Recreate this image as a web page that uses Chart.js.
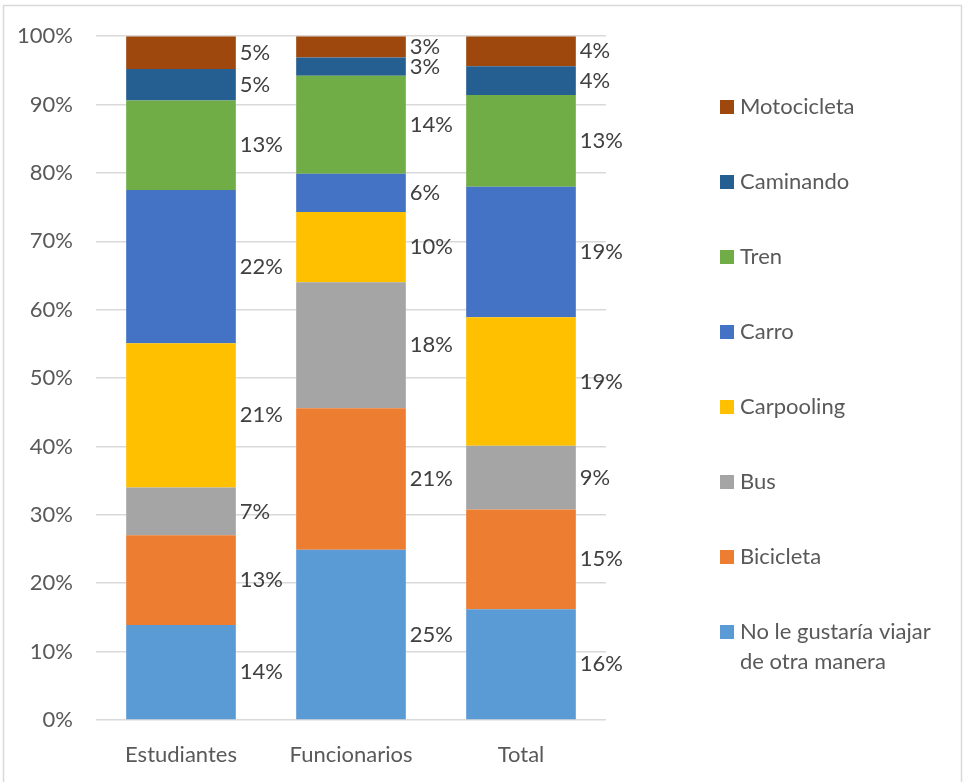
<!DOCTYPE html>
<html>
<head>
<meta charset="utf-8">
<title>Medio de transporte preferido</title>
<script src="https://cdn.jsdelivr.net/npm/chart.js@4.4.0/dist/chart.umd.min.js"></script>
<style>
  html, body { margin: 0; padding: 0; background: #fff; }
  canvas { display: block; }
</style>
</head>
<body>
<canvas id="modos" width="963" height="782"></canvas>
<script>
var categorias = ["Estudiantes", "Funcionarios", "Total"];

// porcentaje por grupo (cada columna suma 100)
var noLeGustaria = [13.9, 24.9, 16.2];
var bicicleta    = [13.1, 20.7, 14.6];
var bus          = [7.0, 18.4, 9.3];
var carpooling   = [21.1, 10.3, 18.8];
var carro        = [22.4, 5.6, 19.1];
var tren         = [13.1, 14.3, 13.4];
var caminando    = [4.6, 2.7, 4.2];
var motocicleta  = [4.8, 3.1, 4.4];

var yTicks = [0, 10, 20, 30, 40, 50, 60, 70, 80, 90, 100];

var fuente = "Lato, 'Open Sans', sans-serif";
var gris = "#595959";
var tam = 22;

// marco exterior del grafico
var marco = {
  id: 'marco',
  beforeDraw: function(chart) {
    var c = chart.ctx;
    c.save();
    c.fillStyle = '#fff';
    c.fillRect(0, 0, chart.width, chart.height);
    c.strokeStyle = '#D9D9D9';
    c.lineWidth = 1.5;
    c.beginPath();
    c.moveTo(3.5, chart.height + 2);
    c.lineTo(3.5, 5.5);
    c.lineTo(961.5, 5.5);
    c.lineTo(961.5, chart.height + 2);
    c.stroke();
    c.restore();
  }
};

// etiquetas de porcentaje a la derecha de cada segmento
var etiquetas = {
  id: 'etiquetas',
  afterDatasetsDraw: function(chart) {
    var c = chart.ctx;
    c.save();
    c.font = tam + "px " + fuente;
    c.fillStyle = "#404040";
    c.textAlign = 'left';
    c.textBaseline = 'middle';
    chart.data.datasets.forEach(function(ds, i) {
      var meta = chart.getDatasetMeta(i);
      meta.data.forEach(function(el, j) {
        var txt = Math.round(ds.data[j]) + '%';
        c.fillText(txt, el.x + el.width / 2 + 4, (el.y + el.base) / 2);
      });
    });
    c.restore();
  }
};

// leyenda vertical a la derecha, en orden inverso
var leyenda = {
  id: 'leyenda',
  afterDraw: function(chart) {
    var c = chart.ctx;
    var ds = chart.data.datasets.slice().reverse();
    c.save();
    c.font = tam + "px " + fuente;
    c.textAlign = 'left';
    c.textBaseline = 'middle';
    var x = 720, y = 107, paso = 75;
    ds.forEach(function(d, k) {
      var yy = y + k * paso;
      c.fillStyle = d.backgroundColor;
      c.fillRect(x, yy - 7, 14, 14);
      c.fillStyle = gris;
      var lineas = Array.isArray(d.lineas) ? d.lineas : [d.label];
      lineas.forEach(function(t, n) {
        c.fillText(t, x + 20, yy + n * 30);
      });
    });
    c.restore();
  }
};

var ctx = document.getElementById("modos").getContext('2d');
var grafico = new Chart(ctx, {
  type: 'bar',
  data: {
    labels: categorias,
    datasets: [
      { label: "No le gustaría viajar de otra manera", lineas: ["No le gustaría viajar", "de otra manera"], data: noLeGustaria, backgroundColor: '#5B9BD5' },
      { label: "Bicicleta",   data: bicicleta,   backgroundColor: '#ED7D31' },
      { label: "Bus",         data: bus,         backgroundColor: '#A5A5A5' },
      { label: "Carpooling",  data: carpooling,  backgroundColor: '#FFC000' },
      { label: "Carro",       data: carro,       backgroundColor: '#4472C4' },
      { label: "Tren",        data: tren,        backgroundColor: '#70AD47' },
      { label: "Caminando",   data: caminando,   backgroundColor: '#255E91' },
      { label: "Motocicleta", data: motocicleta, backgroundColor: '#9E480E' }
    ]
  },
  options: {
    responsive: false,
    animation: false,
    layout: { padding: { left: 0, right: 357, top: 34, bottom: 0 } },
    datasets: { bar: { categoryPercentage: 1, barPercentage: 0.645, borderWidth: 0 } },
    plugins: {
      legend: { display: false },
      tooltip: { enabled: false }
    },
    scales: {
      x: {
        stacked: true,
        grid: { display: false },
        border: { display: false },
        ticks: { color: gris, font: { family: fuente, size: tam }, padding: 14 },
        afterFit: function(s) { s.height = 62; }
      },
      y: {
        stacked: true,
        min: 0,
        max: 100,
        afterBuildTicks: function(s) { s.ticks = yTicks.map(function(v) { return { value: v }; }); },
        grid: { color: '#D9D9D9', lineWidth: 1.5, drawTicks: false },
        border: { display: false },
        ticks: {
          color: gris,
          font: { family: fuente, size: tam },
          padding: 23,
          callback: function(v) { return v + '%'; }
        },
        afterFit: function(s) { s.width = 96; }
      }
    }
  },
  plugins: [marco, etiquetas, leyenda]
});
</script>
</body>
</html>
